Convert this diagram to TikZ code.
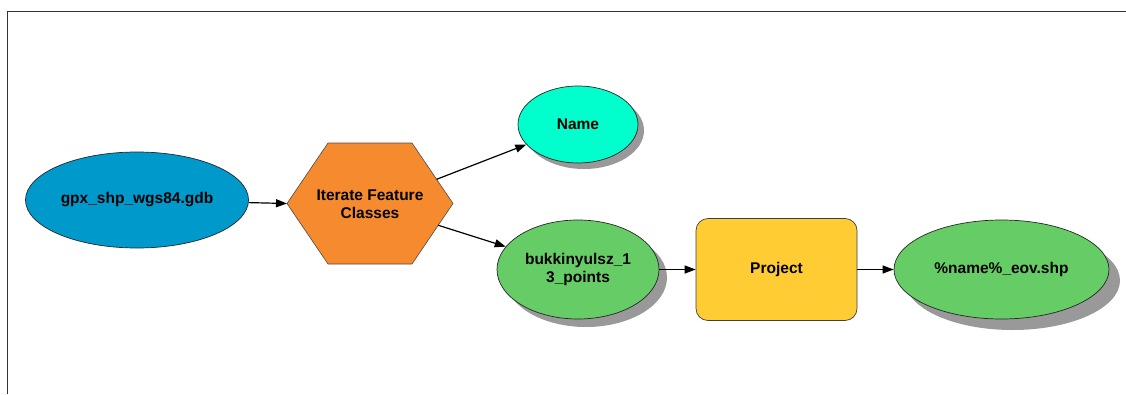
\documentclass[tikz,border=0pt]{standalone}
\usepackage{fontspec}
\setmainfont{Liberation Sans}
\usetikzlibrary{shapes.geometric,shadows,arrows.meta,calc}
\definecolor{dataBlue}{RGB}{0,153,204}
\definecolor{toolOrange}{RGB}{245,138,46}
\definecolor{varCyan}{RGB}{0,255,204}
\definecolor{dataGreen}{RGB}{102,204,102}
\definecolor{procYellow}{RGB}{255,204,51}
\definecolor{shadowGray}{RGB}{153,153,153}
\definecolor{frameGray}{RGB}{51,51,51}
\tikzset{
  label text/.style={font=\bfseries\fontsize{15.5}{18.5}\selectfont, align=center, text=black},
  dataset/.style={ellipse, draw=black!85, line width=0.7pt, inner sep=0pt, label text},
  shadowed/.style={drop shadow={shadow xshift=#1, shadow yshift=-#1, opacity=1, fill=shadowGray}},
  process/.style={rectangle, rounded corners=12pt, draw=black!75, line width=0.7pt, fill=procYellow, inner sep=0pt, label text},
  flow/.style={line width=1.2pt, -{Triangle[length=11pt,width=8pt]}}
}
\begin{document}
\begin{tikzpicture}[x=1pt,y=-1pt]
  \useasboundingbox (0,0) rectangle (1126,394);
  % model frame (top and left edges)
  \draw[frameGray, line width=1.1pt] (7.5,394) -- (7.5,11.5) -- (1126,11.5);

  % input geodatabase
  \node[dataset, fill=dataBlue, minimum width=223pt, minimum height=96pt] (gpx) at (137,200) {gpx\_shp\_wgs84.gdb};

  % iterator hexagon
  \coordinate (hL)  at (287,203.5);
  \coordinate (hTL) at (328,143);
  \coordinate (hTR) at (412,143);
  \coordinate (hR)  at (453,203.5);
  \coordinate (hBR) at (412,264);
  \coordinate (hBL) at (328,264);
  \draw[fill=toolOrange, draw=black!70, line width=0.6pt] (hL) -- (hTL) -- (hTR) -- (hR) -- (hBR) -- (hBL) -- cycle;
  \node[label text] (iter) at (370,204) {Iterate Feature\\Classes};
  \coordinate (hOutA) at ($(hTR)!0.6!(hR)$);
  \coordinate (hOutB) at ($(hR)!0.36!(hBR)$);

  % outputs of the iterator
  \node[dataset, fill=varCyan, shadowed=6pt, minimum width=120pt, minimum height=77pt] (name) at (578,124.5) {Name};
  \node[dataset, fill=dataGreen, shadowed=8pt, minimum width=162pt, minimum height=99pt] (buk) at (578,269.5) {bukkinyulsz\_1\\3\_points};

  % projection tool and its result
  \node[process, minimum width=161pt, minimum height=102pt] (proj) at (776.5,269.5) {Project};
  \node[dataset, fill=dataGreen, shadowed=11pt, minimum width=215pt, minimum height=99pt] (out) at (1001.5,269.5) {\%name\%\_eov.shp};

  % connectors
  \draw[flow] (gpx) -- (hL);
  \draw[flow] (hOutA) -- (name);
  \draw[flow] (hOutB) -- (buk);
  \draw[flow] (buk.east) -- (proj.west);
  \draw[flow] (proj.east) -- (out.west);
\end{tikzpicture}
\end{document}
